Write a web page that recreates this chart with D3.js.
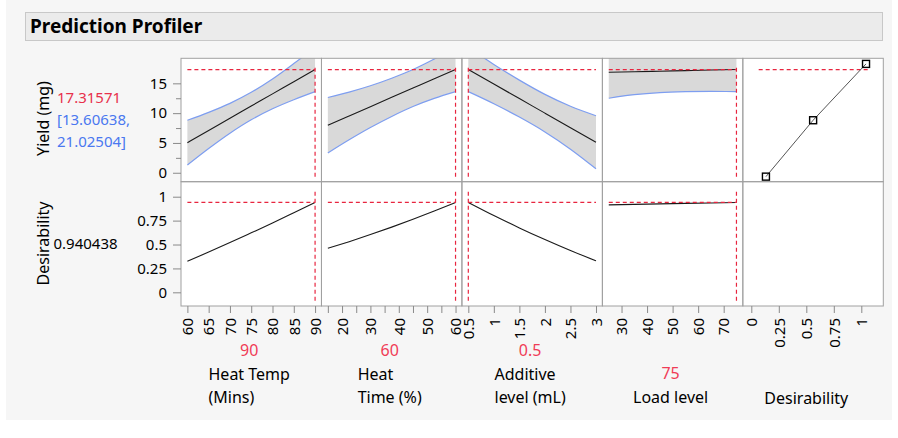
<!DOCTYPE html>
<html><head><meta charset="utf-8">
<script src="https://cdn.jsdelivr.net/npm/d3@7"></script>
<style>
html,body{margin:0;padding:0;background:#fff;}
svg{display:block;font-family:"Noto Sans","Open Sans",sans-serif;}
</style></head><body>
<svg id="c" width="898" height="438"></svg>
<script>
// ---------------- data ----------------
const factorTitles = [["Heat Temp","(Mins)"],["Heat","Time (%)"],["Additive","level (mL)"],["Load level"]];
const currentLabels = ["90","60","0.5","75"];
const currentX = [90, 60, 0.5, 75];
const currentYield = 17.31571;
const currentDesirability = 0.940438;
const yieldLowerCI = 13.60638, yieldUpperCI = 21.02504;

const heatTempX     = [60, 65, 70, 75, 80, 85, 90];
const heatTempYield = [5.05, 7.10, 9.14, 11.19, 13.23, 15.28, 17.32];
const heatTempLower = [1.30, 4.07, 6.64, 8.89, 10.73, 12.25, 13.61];
const heatTempUpper = [8.80, 10.13, 11.64, 13.49, 15.73, 18.31, 21.03];
const heatTempDesir = [0.325, 0.421, 0.520, 0.622, 0.725, 0.832, 0.94];

const heatTimeX     = [15, 22.5, 30, 37.5, 45, 52.5, 60];
const heatTimeYield = [7.97, 9.53, 11.09, 12.65, 14.21, 15.77, 17.32];
const heatTimeLower = [3.32, 5.53, 7.59, 9.45, 11.11, 12.47, 13.61];
const heatTimeUpper = [12.62, 13.53, 14.59, 15.85, 17.31, 19.07, 21.03];
const heatTimeDesir = [0.46, 0.530, 0.604, 0.682, 0.764, 0.850, 0.94];

const additiveX     = [0.5, 1, 1.5, 2, 2.5, 3];
const additiveYield = [17.32, 14.88, 12.44, 10.00, 7.56, 5.12];
const additiveLower = [13.61, 11.58, 9.34, 6.85, 3.96, 0.67];
const additiveUpper = [21.03, 18.18, 15.54, 13.15, 11.16, 9.57];
const additiveDesir = [0.94, 0.803, 0.674, 0.552, 0.437, 0.33];

const loadX     = [25, 35, 45, 55, 65, 75];
const loadYield = [16.85, 16.94, 17.04, 17.13, 17.23, 17.32];
const loadLower = [12.5, 13.1, 13.45, 13.6, 13.65, 13.61];
const loadUpper = [21.2, 20.8, 20.6, 20.6, 20.8, 21.03];
const loadDesir = [0.915, 0.92, 0.925, 0.93, 0.935, 0.94];

const desFnX = [0.133, 0.562, 1.043];
const desFnY = [-0.65, 8.81, 18.26];

const xDomains = [[58.5, 91.5], [12.75, 62.25], [0.375, 3.125], [22.5, 77.5], [-0.077, 1.2]];
const xTickLabels = [[60,65,70,75,80,85,90],[20,30,40,50,60],[0.5,1,1.5,2,2.5,3],[30,40,50,60,70],[0,0.25,0.5,0.75,1]];
const xMinorTicks = [[],[15,25,35,45,55],[],[],[]];
const yieldTicks = [0, 5, 10, 15];
const yieldMinor = [2.5, 7.5, 12.5];
const desTicks = [0, 0.25, 0.5, 0.75, 1];
const yieldDomain = [-1.5, 19.2];
const desDomain = [-0.143, 1.157];

// ---------------- layout ----------------
const svg = d3.select("#c");
const colL = 181, colR = 883.3, nCols = 5;
const colW = (colR - colL) / nCols;
const rowT = [58.3, 181.7, 306];
const RED = "#e8253f", BLUE = "#7e9ef0";

svg.append("rect").attr("x",6).attr("y",0).attr("width",886).attr("height",420).attr("fill","#f6f6f6");
svg.append("rect").attr("x",25.5).attr("y",12.5).attr("width",857).attr("height",28).attr("fill","#ebebeb").attr("stroke","#c8c8c8");
svg.append("text").attr("x",30).attr("y",32.5).attr("font-size",19).attr("font-weight","bold").attr("fill","#000").text("Prediction Profiler");

const yY = d3.scaleLinear().domain(yieldDomain).range([rowT[1], rowT[0]]);
const yD = d3.scaleLinear().domain(desDomain).range([rowT[2], rowT[1]]);
const xs = xDomains.map((d,i)=>d3.scaleLinear().domain(d).range([colL+i*colW, colL+(i+1)*colW]));

// panel backgrounds
for (let r=0;r<2;r++) for (let c=0;c<nCols;c++) {
  svg.append("rect").attr("x",colL+c*colW).attr("y",rowT[r]).attr("width",colW).attr("height",rowT[r+1]-rowT[r]).attr("fill","#fff");
  svg.append("clipPath").attr("id",`cp${r}${c}`).append("rect")
    .attr("x",colL+c*colW).attr("y",rowT[r]).attr("width",colW).attr("height",rowT[r+1]-rowT[r]);
}

const factors = [
  {x:heatTempX, y:heatTempYield, lo:heatTempLower, hi:heatTempUpper, d:heatTempDesir},
  {x:heatTimeX, y:heatTimeYield, lo:heatTimeLower, hi:heatTimeUpper, d:heatTimeDesir},
  {x:additiveX, y:additiveYield, lo:additiveLower, hi:additiveUpper, d:additiveDesir},
  {x:loadX, y:loadYield, lo:loadLower, hi:loadUpper, d:loadDesir}
];
const curve = d3.curveMonotoneX;
const refYieldSpan = [-0.65, 17.6], refDesSpan = [-0.088, 1.052];

factors.forEach((f,i)=>{
  const x = xs[i];
  const idx = d3.range(f.x.length);
  const g1 = svg.append("g").attr("clip-path",`url(#cp0${i})`);
  g1.append("path").attr("d", d3.area().curve(curve).x(k=>x(f.x[k])).y0(k=>yY(f.lo[k])).y1(k=>yY(f.hi[k]))(idx)).attr("fill","#d9d9d9");
  g1.append("path").attr("d", d3.line().curve(curve).x(k=>x(f.x[k])).y(k=>yY(f.lo[k]))(idx)).attr("fill","none").attr("stroke",BLUE).attr("stroke-width",1.2);
  g1.append("path").attr("d", d3.line().curve(curve).x(k=>x(f.x[k])).y(k=>yY(f.hi[k]))(idx)).attr("fill","none").attr("stroke",BLUE).attr("stroke-width",1.2);
  g1.append("path").attr("d", d3.line().curve(curve).x(k=>x(f.x[k])).y(k=>yY(f.y[k]))(idx)).attr("fill","none").attr("stroke","#1a1a1a").attr("stroke-width",1.1);
  const xmin = d3.min(f.x), xmax = d3.max(f.x);
  g1.append("line").attr("x1",x(xmin)).attr("x2",x(xmax)).attr("y1",yY(currentYield)).attr("y2",yY(currentYield))
    .attr("stroke",RED).attr("stroke-dasharray","4,3").attr("stroke-width",1.2);
  g1.append("line").attr("x1",x(currentX[i])).attr("x2",x(currentX[i])).attr("y1",yY(refYieldSpan[1])).attr("y2",yY(refYieldSpan[0]))
    .attr("stroke",RED).attr("stroke-dasharray","4,3").attr("stroke-width",1.2);

  const g2 = svg.append("g").attr("clip-path",`url(#cp1${i})`);
  g2.append("path").attr("d", d3.line().curve(curve).x(k=>x(f.x[k])).y(k=>yD(f.d[k]))(idx)).attr("fill","none").attr("stroke","#1a1a1a").attr("stroke-width",1.1);
  g2.append("line").attr("x1",x(xmin)).attr("x2",x(xmax)).attr("y1",yD(currentDesirability)).attr("y2",yD(currentDesirability))
    .attr("stroke",RED).attr("stroke-dasharray","4,3").attr("stroke-width",1.2);
  g2.append("line").attr("x1",x(currentX[i])).attr("x2",x(currentX[i])).attr("y1",yD(refDesSpan[1])).attr("y2",yD(refDesSpan[0]))
    .attr("stroke",RED).attr("stroke-dasharray","4,3").attr("stroke-width",1.2);
});

// desirability function panel
{
  const x = xs[4];
  const g = svg.append("g").attr("clip-path","url(#cp04)");
  g.append("line").attr("x1",x(0.067)).attr("x2",x(1.063)).attr("y1",yY(currentYield)).attr("y2",yY(currentYield))
    .attr("stroke",RED).attr("stroke-dasharray","4,3").attr("stroke-width",1.2);
  const idx = d3.range(desFnX.length);
  g.append("path").attr("d", d3.line().x(k=>x(desFnX[k])).y(k=>yY(desFnY[k]))(idx)).attr("fill","none").attr("stroke","#555").attr("stroke-width",1);
  g.selectAll("rect.pt").data(idx).join("rect").attr("class","pt")
    .attr("x",k=>x(desFnX[k])-3.5).attr("y",k=>yY(desFnY[k])-3.5).attr("width",7).attr("height",7)
    .attr("fill","none").attr("stroke","#000").attr("stroke-width",1.4);
}

// panel borders
for (let r=0;r<2;r++) for (let c=0;c<nCols;c++) {
  svg.append("rect").attr("x",colL+c*colW).attr("y",rowT[r]).attr("width",colW).attr("height",rowT[r+1]-rowT[r])
    .attr("fill","none").attr("stroke","#a0a0a0").attr("stroke-width",1);
}

// axes
function styleAxis(g){
  g.select(".domain").remove();
  g.selectAll(".tick line").attr("stroke","#8a8a8a");
  g.selectAll(".tick text").attr("fill","#000").attr("font-size",15).attr("font-family","Noto Sans, sans-serif");
}
const ay = svg.append("g").attr("transform",`translate(${colL},0)`).call(d3.axisLeft(yY).tickValues(yieldTicks).tickSize(8).tickPadding(6));
styleAxis(ay);
const ay2 = svg.append("g").attr("transform",`translate(${colL},0)`).call(d3.axisLeft(yY).tickValues(yieldMinor).tickSize(5).tickFormat(""));
styleAxis(ay2);
const ad = svg.append("g").attr("transform",`translate(${colL},0)`).call(d3.axisLeft(yD).tickValues(desTicks).tickSize(8).tickPadding(6).tickFormat(d3.format("")));
styleAxis(ad);

xs.forEach((x,i)=>{
  const g = svg.append("g").attr("transform",`translate(0,${rowT[2]})`).call(d3.axisBottom(x).tickValues(xTickLabels[i]).tickSize(7).tickFormat(d3.format("")));
  styleAxis(g);
  g.selectAll(".tick text").attr("transform","rotate(-90)").attr("text-anchor","end").attr("x",-12).attr("y",0).attr("dy","0.35em");
  if (xMinorTicks[i].length) {
    const gm = svg.append("g").attr("transform",`translate(0,${rowT[2]})`).call(d3.axisBottom(x).tickValues(xMinorTicks[i]).tickSize(7).tickFormat(""));
    styleAxis(gm);
  }
});

// factor titles & current values
const lineY = [374.3, 397.3];
factorTitles.forEach((lines,i)=>{
  const cx = colL + (i+0.5)*colW - 2;
  const g = svg.append("g");
  const start = lines.length === 2 ? 0 : 1;
  const texts = lines.map((t,k)=>g.append("text").attr("y",lineY[start+k]).attr("dy","0.35em").attr("font-size",16).attr("fill","#000").text(t));
  const w = d3.max(texts, t=>t.node().getComputedTextLength());
  texts.forEach(t=>t.attr("x",cx - w/2));
  svg.append("text").attr("x",cx).attr("y",lineY[start]-24).attr("dy","0.35em").attr("text-anchor","middle")
    .attr("font-size",16).attr("fill","#f03c56").text(currentLabels[i]);
});
svg.append("text").attr("x",xs[4](0.5)).attr("y",398).attr("dy","0.35em").attr("text-anchor","middle").attr("font-size",16).attr("fill","#000").text("Desirability");

// left labels
svg.append("text").attr("transform",`translate(43.5,118.5) rotate(-90)`).attr("text-anchor","middle").attr("dy","0.35em").attr("font-size",16).text("Yield (mg)");
svg.append("text").attr("transform",`translate(43,243.5) rotate(-90)`).attr("text-anchor","middle").attr("dy","0.35em").attr("font-size",16).text("Desirability");
svg.append("text").attr("x",57).attr("y",97.5).attr("dy","0.35em").attr("font-size",15).attr("fill","#e8304c").text(d3.format(".5f")(currentYield));
svg.append("text").attr("x",57).attr("y",120).attr("dy","0.35em").attr("font-size",15).attr("fill","#4a78f0").text(`[${d3.format(".5f")(yieldLowerCI)},`);
svg.append("text").attr("x",57).attr("y",142).attr("dy","0.35em").attr("font-size",15).attr("fill","#4a78f0").text(`${d3.format(".5f")(yieldUpperCI)}]`);
svg.append("text").attr("x",53.5).attr("y",243.5).attr("dy","0.35em").attr("font-size",15).attr("fill","#000").text(d3.format(".6f")(currentDesirability));
</script></body></html>
